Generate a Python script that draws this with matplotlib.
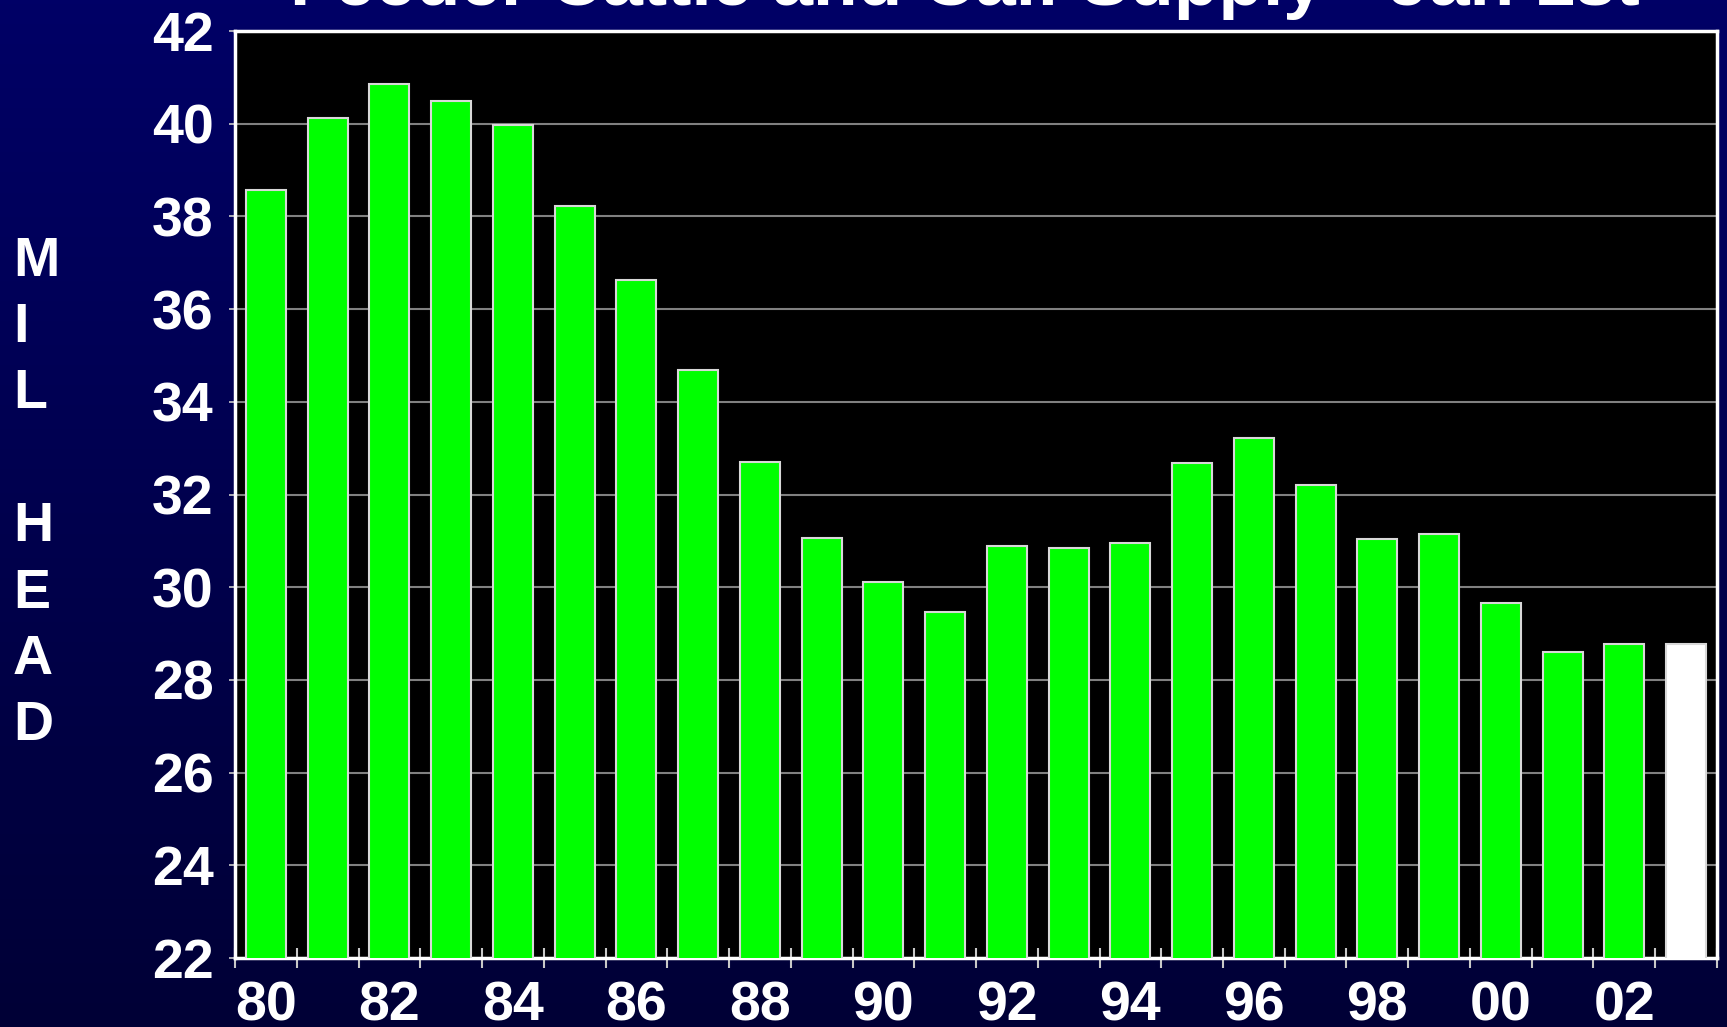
import numpy as np
import matplotlib.pyplot as plt

plt.rcParams['font.family'] = ['Liberation Sans', 'DejaVu Sans']
plt.rcParams['font.weight'] = 'bold'

years = ['80', '81', '82', '83', '84', '85', '86', '87', '88', '89', '90', '91',
         '92', '93', '94', '95', '96', '97', '98', '99', '00', '01', '02', '03']
supply = [38.56, 40.12, 40.86, 40.50, 39.98, 38.22, 36.63, 34.68, 32.71, 31.07,
          30.12, 29.46, 30.88, 30.84, 30.95, 32.69, 33.21, 32.21, 31.03, 31.14,
          29.65, 28.60, 28.77, 28.77]
yticks = [22, 24, 26, 28, 30, 32, 34, 36, 38, 40, 42]

fig = plt.figure(figsize=(17.27, 10.27), dpi=100)

# gradient background
bg = fig.add_axes([0, 0, 1, 1], zorder=-1)
grad = np.linspace(0, 1, 256).reshape(-1, 1)
top = np.array([0x00, 0x00, 0x66]) / 255
bot = np.array([0x00, 0x00, 0x36]) / 255
img = top + (bot - top) * grad[:, :, None]
bg.imshow(img, aspect='auto', extent=[0, 1, 0, 1])
bg.axis('off')

ax = fig.add_axes([0.1361, 0.0672, 0.8581, 0.9026])
ax.set_facecolor('black')
x = np.arange(len(years))
colors = ['#00ff00'] * (len(years) - 1) + ['white']
ax.bar(x, supply, width=0.65, color=colors, edgecolor='#d8d8d8', linewidth=1.5, zorder=3)

ax.set_xlim(-0.5, len(years) - 0.5)
ax.set_ylim(22, 42)
ax.set_yticks(yticks)
ax.set_yticklabels([str(v) for v in yticks], fontsize=40, color='white', fontweight='bold')
ax.tick_params(axis='y', direction='out', length=4.5, width=1.2, color='#c8c8c8', pad=11)
ax.yaxis.grid(True, color='#808080', linewidth=1.5, zorder=1)

ax.set_xticks(x[::2])
ax.set_xticklabels(years[::2], fontsize=40, color='white', fontweight='bold')
ax.set_xticks(np.arange(-0.5, len(years)), minor=True)
ax.tick_params(axis='x', which='major', length=0, pad=16)
ax.tick_params(axis='x', which='minor', direction='inout', length=14, width=1.5, color='#c8c8c8')

for s in ax.spines.values():
    s.set_color('white')
    s.set_linewidth(2.5)

fig.text(0.5588, 0.9951, 'Feeder Cattle and Calf Supply - Jan 1st', fontsize=52.5,
         color='white', fontweight='bold', ha='center', va='baseline')
fig.text(0.0075, 0.519, 'M\nI\nL\n\nH\nE\nA\nD', fontsize=40, color='white',
         fontweight='bold', ha='left', va='center', linespacing=1.36,
         multialignment='left')

fig.savefig('out.png', dpi=100, facecolor=fig.get_facecolor())
